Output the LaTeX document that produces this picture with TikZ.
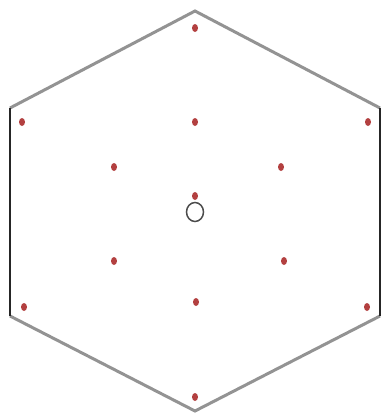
\documentclass[tikz,border=0pt]{standalone}
\usetikzlibrary{shapes.geometric}
\begin{document}
\begin{tikzpicture}[x=1pt,y=-1pt,
  dot/.style={ellipse,fill=red!60!black,fill opacity=0.75,inner sep=0pt,minimum width=6pt,minimum height=8pt},
  edge/.style={draw=gray!85,line width=3pt},
  vedge/.style={draw=black!85,line width=2.5pt}]
\useasboundingbox (0,0) rectangle (381,416);
\coordinate (T) at (195,11);
\coordinate (UL) at (10,108);
\coordinate (LL) at (10,316);
\coordinate (B) at (195,411);
\coordinate (LR) at (380,316);
\coordinate (UR) at (380,108);
\draw[edge] (UL) -- (T) -- (UR);
\draw[edge] (LL) -- (B) -- (LR);
\draw[vedge] (UL) -- (LL);
\draw[vedge] (UR) -- (LR);
\node[dot] (d1) at (195,28) {};
\node[dot] (d2) at (22,122) {};
\node[dot] (d3) at (195,122) {};
\node[dot] (d4) at (368,122) {};
\node[dot] (d5) at (114,167) {};
\node[dot] (d6) at (281,167) {};
\node[dot] (d7) at (195,196) {};
\node[dot] (d8) at (114,261) {};
\node[dot] (d9) at (284,261) {};
\node[dot] (d10) at (196,302) {};
\node[dot] (d11) at (24,307) {};
\node[dot] (d12) at (367,307) {};
\node[dot] (d13) at (195,397) {};
\node[ellipse,draw=black!70,line width=1.5pt,minimum width=17pt,minimum height=19pt,inner sep=0pt] (c) at (195,212) {};
\end{tikzpicture}
\end{document}
